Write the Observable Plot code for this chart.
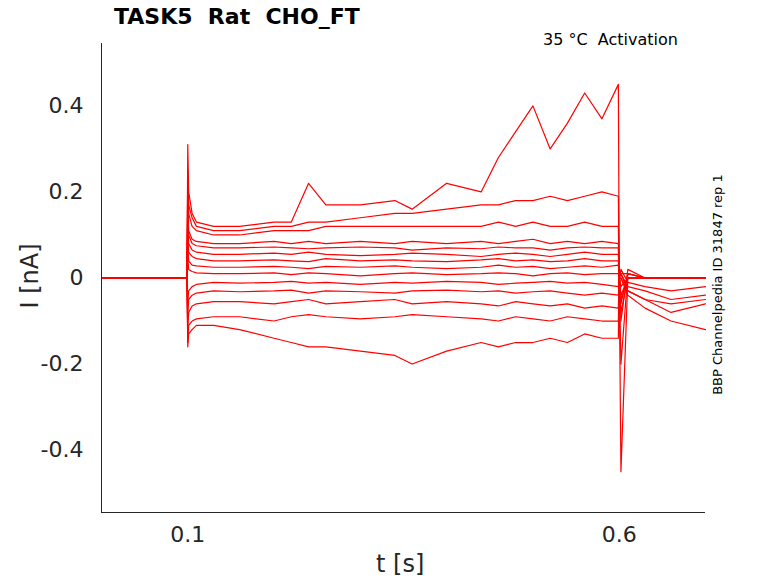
<!DOCTYPE html>
<html><head><meta charset="utf-8">
<script src="https://cdn.jsdelivr.net/npm/d3@7"></script>
<script src="https://cdn.jsdelivr.net/npm/@observablehq/plot@0.6"></script>
<style>
body{margin:0;background:#fff;font-family:"DejaVu Sans",sans-serif}
#c{position:relative;width:778px;height:583px}
.t{position:absolute;white-space:pre}
svg text{font-size:22px}
</style></head><body><div id="c"></div>
<script>
const times=[0,0.04,0.099,0.1,0.101,0.105,0.11,0.13,0.16,0.2,0.22,0.24,0.26,0.3,0.34,0.36,0.4,0.44,0.46,0.48,0.5,0.52,0.54,0.56,0.58,0.599,0.6,0.602,0.61,0.63,0.66,0.7];
const traces=[
[0,0,0,0.31,0.2,0.15,0.13,0.12,0.12,0.13,0.13,0.22,0.17,0.17,0.18,0.16,0.22,0.2,0.28,0.34,0.4,0.3,0.36,0.43,0.37,0.45,0.02,0.01,0.01,0,0,0],
[0,0,0,0.25,0.17,0.14,0.12,0.11,0.11,0.12,0.12,0.13,0.13,0.14,0.15,0.15,0.16,0.17,0.17,0.18,0.18,0.19,0.18,0.19,0.2,0.19,0.01,-0.02,0,0,0,0],
[0,0,0,0.22,0.15,0.12,0.11,0.1,0.1,0.11,0.11,0.11,0.12,0.12,0.12,0.12,0.12,0.12,0.13,0.12,0.13,0.12,0.12,0.13,0.12,0.12,0.01,-0.05,0,0,0,0],
[0,0,0,0.18,0.11,0.09,0.085,0.08,0.08,0.085,0.08,0.085,0.08,0.085,0.08,0.085,0.08,0.085,0.08,0.085,0.09,0.08,0.085,0.08,0.085,0.08,0.01,-0.1,0.02,0,0,0],
[0,0,0,0.15,0.1,0.08,0.075,0.07,0.07,0.072,0.07,0.068,0.07,0.072,0.07,0.065,0.07,0.068,0.072,0.07,0.07,0.065,0.07,0.072,0.07,0.07,0,-0.2,0.01,0,0,0],
[0,0,0,0.12,0.08,0.065,0.06,0.055,0.055,0.058,0.055,0.06,0.055,0.052,0.055,0.058,0.055,0.05,0.055,0.058,0.055,0.05,0.055,0.06,0.055,0.055,0,-0.45,0,0,0,0],
[0,0,0,0.1,0.06,0.05,0.045,0.04,0.04,0.042,0.04,0.038,0.045,0.04,0.042,0.04,0.038,0.042,0.045,0.04,0.042,0.038,0.04,0.045,0.04,0.04,0,-0.08,0,0,0,0],
[0,0,0,0.08,0.04,0.03,0.028,0.025,0.025,0.027,0.025,0.022,0.027,0.025,0.028,0.025,0.022,0.025,0.03,0.025,0.027,0.022,0.025,0.028,0.025,0.03,0,-0.06,0.01,0,0,0],
[0,0,0,0.05,0.02,0.015,0.012,0.01,0.01,0.012,0.008,0.012,0.01,0.005,0.01,0.012,0.008,0.01,0.012,0.01,0.005,0.01,0.012,0.008,0.01,0.01,0,-0.04,0,0,0,0],
[0,0,0,-0.06,-0.03,-0.02,-0.015,-0.01,-0.012,-0.01,-0.008,-0.012,-0.01,-0.015,-0.01,-0.012,-0.008,-0.01,-0.015,-0.012,-0.01,-0.008,-0.012,-0.01,-0.015,-0.02,0,0.02,-0.01,-0.02,-0.03,-0.02],
[0,0,0,-0.09,-0.05,-0.04,-0.035,-0.03,-0.032,-0.03,-0.028,-0.035,-0.03,-0.032,-0.035,-0.03,-0.028,-0.032,-0.03,-0.035,-0.032,-0.03,-0.035,-0.04,-0.035,-0.04,0,0.01,-0.02,-0.03,-0.05,-0.04],
[0,0,0,-0.12,-0.08,-0.065,-0.06,-0.055,-0.055,-0.06,-0.055,-0.05,-0.06,-0.055,-0.05,-0.06,-0.055,-0.06,-0.065,-0.055,-0.06,-0.065,-0.06,-0.07,-0.065,-0.07,0,0.01,-0.03,-0.05,-0.08,-0.06],
[0,0,0,-0.15,-0.11,-0.1,-0.095,-0.09,-0.09,-0.1,-0.09,-0.085,-0.09,-0.095,-0.09,-0.085,-0.09,-0.095,-0.1,-0.09,-0.095,-0.1,-0.09,-0.095,-0.1,-0.1,0,0,-0.04,-0.07,-0.1,-0.12],
[0,0,0,-0.16,-0.13,-0.12,-0.11,-0.11,-0.12,-0.14,-0.15,-0.16,-0.16,-0.17,-0.18,-0.2,-0.17,-0.15,-0.16,-0.15,-0.15,-0.14,-0.15,-0.13,-0.14,-0.14,0,0,-0.03,-0.05,-0.06,-0.05]
];
const xTicks=[0.1,0.6];
const yTicks=[-0.4,-0.2,0,0.2,0.4];
const rows=traces.flatMap((v,k)=>v.map((y,i)=>({t:times[i],y,k})));
const chart=Plot.plot({
  width:778,height:583,marginLeft:101,marginRight:73,marginTop:43,marginBottom:71,
  style:{fontFamily:"DejaVu Sans",fontSize:"22px",color:"#262626"},
  x:{domain:[0,0.7]},y:{domain:[-0.545,0.545]},
  marks:[
    Plot.line(rows,{x:"t",y:"y",z:"k",stroke:"red",strokeWidth:1.2}),
    Plot.axisX({ticks:xTicks,tickFormat:d=>String(d),tickSize:0,tickPadding:14,label:null}),
    Plot.axisY({ticks:yTicks,tickFormat:d=>d===0?"0":String(d),tickSize:0,tickPadding:18,label:null}),
    Plot.ruleX([0],{stroke:"#262626"}),
    Plot.ruleY([-0.545],{stroke:"#262626"})
  ]
});
const c=document.getElementById("c");c.appendChild(chart);
const add=(txt,css)=>{const d=document.createElement("div");d.className="t";d.textContent=txt;d.style.cssText=css;c.appendChild(d);};
add("TASK5  Rat  CHO_FT","left:114px;top:4px;font-size:22px;font-weight:bold;color:#000");
add("35 °C  Activation","left:543px;top:30px;font-size:16px;color:#000");
add("t [s]","left:376px;top:550px;font-size:24px;color:#262626");
add("I [nA]","left:-3px;top:262px;font-size:24px;color:#262626;transform:rotate(-90deg)");
add("BBP Channelpedia ID 31847 rep 1","left:605px;top:277px;font-size:13px;color:#000;transform:rotate(-90deg);width:224px;text-align:center");
</script></body></html>
